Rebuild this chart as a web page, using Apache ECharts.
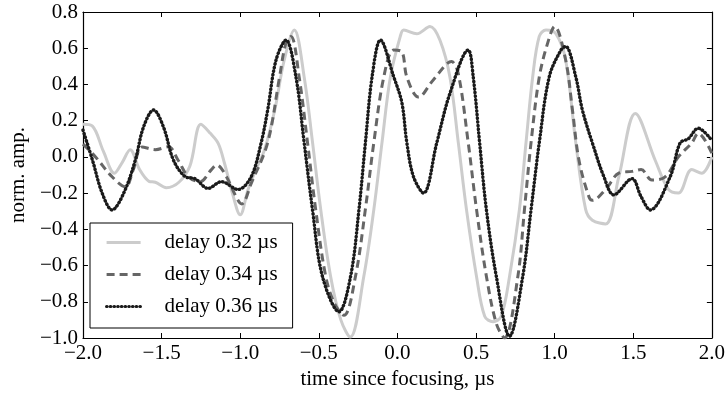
<!DOCTYPE html>
<html>
<head>
<meta charset="utf-8">
<script src="https://cdn.jsdelivr.net/npm/echarts@6/dist/echarts.min.js"></script>
<style>html,body{margin:0;padding:0;background:#fff;}#c{width:728px;height:396px;}</style>
</head>
<body>
<div id="c"></div>
<script>
const seriesNames = ['delay 0.32 µs', 'delay 0.34 µs', 'delay 0.36 µs'];
const xTicks = [-2.0, -1.5, -1.0, -0.5, 0.0, 0.5, 1.0, 1.5, 2.0];
const yTicks = [-1.0, -0.8, -0.6, -0.4, -0.2, 0.0, 0.2, 0.4, 0.6, 0.8];

const delay032 = [[-2.0,0.18],[-1.94,0.17],[-1.87,0.03],[-1.80,-0.09],[-1.75,-0.03],[-1.70,0.04],[-1.64,-0.07],[-1.58,-0.135],[-1.54,-0.14],[-1.47,-0.17],[-1.39,-0.14],[-1.32,-0.05],[-1.25,0.18],[-1.19,0.13],[-1.14,0.075],[-1.10,-0.035],[-1.05,-0.2],[-1.0,-0.32],[-0.95,-0.18],[-0.90,-0.07],[-0.845,0.04],[-0.78,0.26],[-0.72,0.535],[-0.656,0.70],[-0.593,0.44],[-0.54,0.08],[-0.488,-0.29],[-0.425,-0.66],[-0.36,-0.90],[-0.30,-0.995],[-0.214,-0.66],[-0.15,-0.29],[-0.098,0.08],[-0.045,0.44],[0.018,0.665],[0.04,0.70],[0.123,0.68],[0.207,0.72],[0.27,0.645],[0.334,0.44],[0.387,0.08],[0.439,-0.29],[0.503,-0.66],[0.555,-0.88],[0.608,-0.91],[0.66,-0.88],[0.713,-0.66],[0.776,-0.29],[0.818,0.08],[0.86,0.44],[0.902,0.665],[0.945,0.70],[1.008,0.68],[1.07,0.535],[1.134,0.08],[1.197,-0.29],[1.24,-0.35],[1.324,-0.37],[1.408,-0.11],[1.513,0.24],[1.64,-0.02],[1.724,-0.18],[1.787,-0.20],[1.872,-0.07],[1.935,-0.09],[2.0,0.0]];

const delay034 = [[-2.0,0.07],[-1.92,0.0],[-1.815,-0.11],[-1.73,-0.165],[-1.68,-0.07],[-1.625,0.055],[-1.54,0.04],[-1.457,0.056],[-1.394,-0.02],[-1.33,-0.11],[-1.256,-0.137],[-1.183,-0.07],[-1.15,-0.045],[-1.10,-0.09],[-1.014,-0.24],[-0.99,-0.26],[-0.93,-0.146],[-0.825,0.08],[-0.75,0.44],[-0.71,0.627],[-0.677,0.665],[-0.625,0.44],[-0.572,0.08],[-0.52,-0.29],[-0.456,-0.66],[-0.40,-0.81],[-0.34,-0.875],[-0.267,-0.66],[-0.204,-0.29],[-0.15,0.08],[-0.087,0.44],[-0.024,0.59],[0.028,0.58],[0.06,0.44],[0.134,0.33],[0.228,0.425],[0.344,0.526],[0.387,0.46],[0.45,0.08],[0.503,-0.29],[0.566,-0.66],[0.629,-0.92],[0.681,-1.0],[0.766,-0.66],[0.808,-0.29],[0.85,0.08],[0.902,0.44],[0.955,0.627],[1.0,0.72],[1.07,0.535],[1.113,0.26],[1.155,-0.02],[1.218,-0.22],[1.24,-0.24],[1.324,-0.18],[1.408,-0.09],[1.492,-0.08],[1.55,-0.07],[1.618,-0.128],[1.703,-0.11],[1.787,0.0],[1.872,0.077],[1.913,0.13],[2.0,0.02]];

const delay036 = [[-2.0,0.148],[-1.94,-0.017],[-1.878,-0.2],[-1.815,-0.293],[-1.741,-0.2],[-1.667,-0.017],[-1.615,0.165],[-1.551,0.259],[-1.488,0.165],[-1.425,-0.017],[-1.35,-0.109],[-1.288,-0.12],[-1.204,-0.174],[-1.12,-0.137],[-1.014,-0.18],[-0.93,-0.109],[-0.867,0.077],[-0.825,0.26],[-0.772,0.535],[-0.709,0.645],[-0.646,0.443],[-0.593,0.077],[-0.54,-0.293],[-0.477,-0.66],[-0.372,-0.855],[-0.298,-0.66],[-0.245,-0.293],[-0.204,0.077],[-0.161,0.443],[-0.108,0.645],[-0.024,0.443],[0.028,0.30],[0.06,0.077],[0.102,-0.109],[0.166,-0.2],[0.25,0.077],[0.334,0.351],[0.45,0.59],[0.482,0.443],[0.523,0.077],[0.566,-0.293],[0.629,-0.66],[0.713,-0.99],[0.797,-0.66],[0.85,-0.29],[0.902,0.077],[0.966,0.443],[1.04,0.59],[1.07,0.61],[1.134,0.443],[1.176,0.26],[1.24,0.077],[1.313,-0.109],[1.376,-0.21],[1.492,-0.12],[1.55,-0.22],[1.608,-0.293],[1.735,-0.109],[1.798,0.077],[1.85,0.1],[1.913,0.158],[2.0,0.09]];

const FONT = '"Liberation Serif", "Times New Roman", serif';
const FS = 21;
const fmt = v => (Math.abs(v) < 1e-9 ? 0 : v).toFixed(1).replace('-', '\u2212');

const chart = echarts.init(document.getElementById('c'), null, {renderer: 'canvas'});
const axisCommon = {
  axisLine: {show: true, onZero: false, lineStyle: {color: '#000', width: 1.2}},
  axisTick: {show: true, inside: true, length: 5, lineStyle: {color: '#000', width: 1}},
  splitLine: {show: false}
};
chart.setOption({
  animation: false,
  backgroundColor: '#fff',
  grid: {left: 79, right: 16, top: 12, bottom: 58, containLabel: false},
  xAxis: [
    Object.assign({type: 'value', min: xTicks[0], max: xTicks[xTicks.length-1], interval: 0.5, position: 'bottom',
      name: 'time since focusing, µs', nameLocation: 'middle', nameGap: 29,
      nameTextStyle: {fontFamily: FONT, fontSize: FS, color: '#000'},
      axisLabel: {fontFamily: FONT, fontSize: FS, color: '#000', margin: 5, formatter: fmt}}, axisCommon),
    Object.assign({type: 'value', min: xTicks[0], max: xTicks[xTicks.length-1], interval: 0.5, position: 'top',
      axisLabel: {show: false}}, axisCommon)
  ],
  yAxis: [
    Object.assign({type: 'value', min: yTicks[0], max: yTicks[yTicks.length-1], interval: 0.2, position: 'left',
      name: 'norm. amp.', nameLocation: 'middle', nameGap: 47, nameRotate: 90,
      nameTextStyle: {fontFamily: FONT, fontSize: FS, color: '#000'},
      axisLabel: {fontFamily: FONT, fontSize: FS, color: '#000', margin: 5, formatter: fmt}}, axisCommon),
    Object.assign({type: 'value', min: yTicks[0], max: yTicks[yTicks.length-1], interval: 0.2, position: 'right',
      axisLabel: {show: false}}, axisCommon)
  ],
  legend: {
    orient: 'vertical', left: 90, top: 223,
    backgroundColor: '#fff', borderColor: '#000', borderWidth: 1, borderRadius: 0,
    padding: [9, 15, 11, 15], itemWidth: 34, itemHeight: 22, itemGap: 11,
    itemStyle: {opacity: 0},
    lineStyle: {width: 3.2},
    textStyle: {fontFamily: FONT, fontSize: FS, color: '#000', padding: [0, 0, 0, 19]},
    data: seriesNames
  },
  series: [
    {name: seriesNames[0], type: 'line', data: delay032, smooth: 0.35, symbol: 'none', z: 2,
      lineStyle: {color: '#cccccc', width: 3}, itemStyle: {color: '#cccccc'}},
    {name: seriesNames[1], type: 'line', data: delay034, smooth: 0.35, symbol: 'none', z: 3,
      lineStyle: {color: '#666666', width: 3, type: [8, 5]}, itemStyle: {color: '#666666'}},
    {name: seriesNames[2], type: 'line', data: delay036, smooth: 0.35, symbol: 'none', z: 4,
      lineStyle: {color: '#1a1a1a', width: 3.4, type: [0.5, 3.2], cap: 'round'}, itemStyle: {color: '#1a1a1a'}}
  ]
});
</script>
</body>
</html>
